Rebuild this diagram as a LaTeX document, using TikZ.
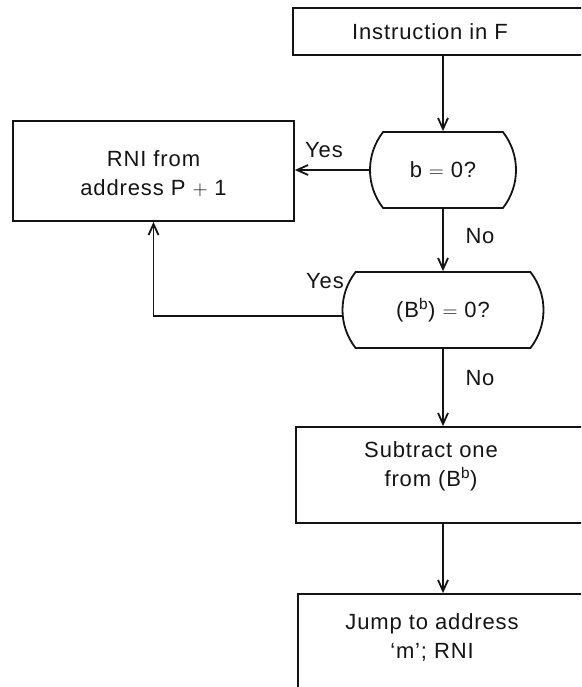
\documentclass[tikz,border=0pt]{standalone}
\usepackage{fontspec}
\setmainfont{Liberation Sans}[LetterSpace=4]
\usetikzlibrary{arrows.meta,shapes.misc}
\definecolor{ink}{HTML}{141414}
\tikzset{
  base/.style={font=\fontsize{22}{29}\selectfont, text=ink},
  box/.style={base, rectangle, draw=ink, line width=1.8pt, inner sep=0pt},
  decision/.style={base, rounded rectangle, rounded rectangle arc length=76, draw=ink, line width=1.8pt, minimum height=76pt, inner sep=0pt},
  boxtext/.style={base, align=center},
  lbl/.style={base},
  arrow/.style={-{Straight Barb[length=11pt,width=10pt]}, line width=1.8pt, draw=ink},
}
\begin{document}
\begin{tikzpicture}[x=1pt,y=-1pt]
  \useasboundingbox (0,0) rectangle (581,687);
  \clip (0,0) rectangle (581,687);

  % boxes run off the right edge of the page
  \node[box,minimum width=307pt,minimum height=47pt] (instr) at (446.5,31.5) {};
  \node[boxtext] (instrtext) at (430,32) {Instruction in F};

  \node[decision,minimum width=146pt] (dzero) at (443,170) {b $=$ 0?};
  \node[box,minimum width=281pt,minimum height=100pt] (rni) at (153.5,171) {};
  \node[boxtext] (rnitext) at (153.5,174) {RNI from\\address P $+$ 1};

  \node[decision,minimum width=201pt] (dbb) at (443,310) {(B\textsuperscript{b}) $=$ 0?};

  \node[box,minimum width=304pt,minimum height=96pt] (sub) at (448,475) {};
  \node[boxtext] (subtext) at (431,466) {Subtract one\\from (B\textsuperscript{b})};

  \node[box,minimum width=302pt,minimum height=130pt] (jump) at (449,659) {};
  \node[boxtext] (jumptext) at (432,637) {Jump to address\\`m'; RNI};

  \draw[arrow] (instr.south -| dzero.north) -- (dzero.north);
  \draw[arrow] (dzero.west) -- (dzero.west -| rni.east);
  \draw[arrow] (dzero.south) -- (dbb.north);
  \draw[arrow] ([yshift=-6pt]dbb.west) -| (rni.south);
  \draw[arrow] (dbb.south) -- (sub.north -| dbb.south);
  \draw[arrow] (sub.south -| dbb.south) -- (jump.north -| dbb.south);

  \node[lbl] (yesa) at (324,150) {Yes};
  \node[lbl] (noa) at (480,236) {No};
  \node[lbl] (yesb) at (325,281) {Yes};
  \node[lbl] (nob) at (480,378) {No};
\end{tikzpicture}
\end{document}
